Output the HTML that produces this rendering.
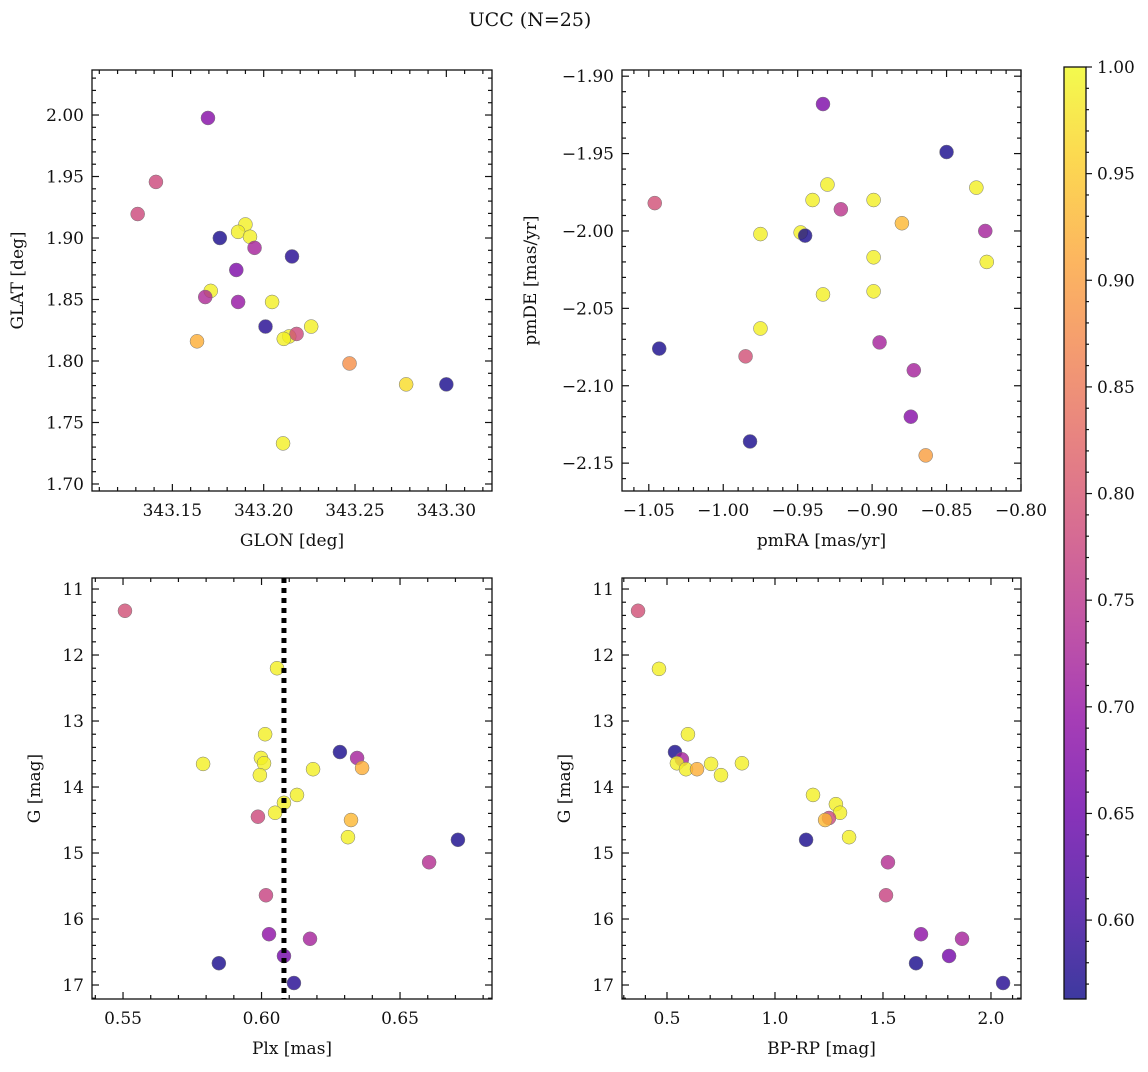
<!DOCTYPE html>
<html><head><meta charset="utf-8"><style>
body{margin:0;background:#fff;}
svg text{font-family:"DejaVu Serif","Liberation Serif",serif;fill:#111;}
</style></head><body>
<svg id="fig" width="1148" height="1067" xmlns="http://www.w3.org/2000/svg">
<defs><linearGradient id="cbg" x1="0" y1="1" x2="0" y2="0">
<stop offset="0" stop-color="#0d0887"/><stop offset="0.1" stop-color="#41049d"/><stop offset="0.2" stop-color="#6a00a8"/><stop offset="0.3" stop-color="#8f0da4"/><stop offset="0.4" stop-color="#b12a90"/><stop offset="0.5" stop-color="#cc4778"/><stop offset="0.6" stop-color="#e16462"/><stop offset="0.7" stop-color="#f2844b"/><stop offset="0.8" stop-color="#fca636"/><stop offset="0.9" stop-color="#fcce25"/><stop offset="1" stop-color="#f0f921"/>
</linearGradient></defs>
<text x="530" y="26" font-size="19" text-anchor="middle">UCC (N=25)</text>
</svg>
<script>
// Panel 1: GLON / GLAT
const p1_x=[343.1695,343.141,343.131,343.176,343.190,343.186,343.1925,343.195,343.2155,343.185,343.171,343.168,343.186,343.2046,343.201,343.226,343.214,343.218,343.211,343.1635,343.247,343.278,343.300,343.2106];
const p1_y=[1.9976,1.9456,1.9195,1.900,1.911,1.905,1.901,1.892,1.885,1.874,1.857,1.852,1.848,1.848,1.828,1.828,1.820,1.822,1.818,1.816,1.798,1.781,1.781,1.733];
const p1_c=[0.68,0.78,0.78,0.57,0.99,0.99,0.99,0.72,0.58,0.67,0.99,0.73,0.70,0.99,0.58,0.99,0.99,0.78,0.99,0.92,0.88,0.97,0.57,0.99];
// Panel 2: pmRA / pmDE
const p2_x=[-0.933,-0.850,-0.830,-0.930,-0.940,-0.899,-1.046,-0.921,-0.880,-0.824,-0.975,-0.948,-0.945,-0.823,-0.899,-0.899,-0.933,-0.975,-1.043,-0.985,-0.895,-0.872,-0.874,-0.982,-0.864];
const p2_y=[-1.918,-1.949,-1.972,-1.970,-1.980,-1.980,-1.982,-1.986,-1.995,-2.000,-2.002,-2.001,-2.003,-2.020,-2.017,-2.039,-2.041,-2.063,-2.076,-2.081,-2.072,-2.090,-2.120,-2.136,-2.145];
const p2_c=[0.67,0.57,0.99,0.99,0.99,0.99,0.79,0.75,0.93,0.72,0.99,0.99,0.57,0.99,0.99,0.99,0.99,0.99,0.57,0.79,0.72,0.72,0.68,0.57,0.90];
// Panel 3: Plx / G
const p3_x=[0.5507,0.6056,0.6013,0.5789,0.5998,0.6009,0.5994,0.6283,0.6345,0.6363,0.6186,0.6128,0.6081,0.6049,0.5987,0.6323,0.6312,0.6709,0.6605,0.6016,0.6027,0.6175,0.6081,0.5846,0.6117];
const p3_y=[11.33,12.20,13.20,13.65,13.56,13.64,13.82,13.47,13.56,13.71,13.73,14.12,14.24,14.39,14.45,14.50,14.76,14.80,15.14,15.64,16.23,16.30,16.56,16.67,16.97];
const p3_c=[0.79,0.99,0.99,0.99,0.99,0.99,0.99,0.57,0.72,0.92,0.99,0.99,0.99,0.99,0.78,0.93,0.99,0.57,0.74,0.77,0.69,0.72,0.66,0.57,0.58];
const plx_median=0.6081;
// Panel 4: BP-RP / G
const p4_x=[0.366,0.463,0.597,0.537,0.569,0.546,0.588,0.639,0.704,0.750,0.847,1.176,1.282,1.301,1.250,1.232,1.343,1.144,1.523,1.514,1.676,1.866,1.806,1.653,2.056];
const p4_y=[11.33,12.21,13.20,13.47,13.58,13.64,13.73,13.73,13.65,13.82,13.64,14.12,14.26,14.39,14.47,14.50,14.76,14.80,15.14,15.64,16.23,16.30,16.56,16.67,16.97];
const p4_c=[0.79,0.99,0.99,0.57,0.72,0.99,0.99,0.92,0.99,0.99,0.99,0.99,0.99,0.99,0.78,0.93,0.99,0.57,0.74,0.77,0.69,0.72,0.66,0.57,0.58];
const p1_ticks=["343.15","343.20","343.25","343.30"];
const p1_yticks=["1.70","1.75","1.80","1.85","1.90","1.95","2.00"];
const p2_ticks=["−1.05","−1.00","−0.95","−0.90","−0.85","−0.80"];
const p2_yticks=["−2.15","−2.10","−2.05","−2.00","−1.95","−1.90"];
const p3_ticks=["0.55","0.60","0.65"];
const G_ticks=["11","12","13","14","15","16","17"];
const p4_ticks=["0.5","1.0","1.5","2.0"];
const cb_ticks=["0.60","0.65","0.70","0.75","0.80","0.85","0.90","0.95","1.00"];
const cmin=0.563,cmax=1.0;

const NS="http://www.w3.org/2000/svg";
const svg=document.getElementById('fig');
function mk(t,a,p){const e=document.createElementNS(NS,t);for(const k in a)e.setAttribute(k,a[k]);(p||svg).appendChild(e);return e;}
const stops=[[0,[13,8,135]],[0.1,[65,4,157]],[0.2,[106,0,168]],[0.3,[143,13,164]],[0.4,[177,42,144]],[0.5,[204,71,120]],[0.6,[225,100,98]],[0.7,[242,132,75]],[0.8,[252,166,54]],[0.9,[252,206,37]],[1,[240,249,33]]];
function plasma(t){t=Math.max(0,Math.min(1,t));for(let i=1;i<stops.length;i++){if(t<=stops[i][0]){const a=stops[i-1],b=stops[i],f=(t-a[0])/(b[0]-a[0]);return 'rgb('+a[1].map((v,j)=>Math.round(v+(b[1][j]-v)*f)).join(',')+')';}}return 'rgb(240,249,33)';}

function panel(name,box,xd,yd,xs,ys,cs,xt,yt,xminor,yminor,xlab,ylab,inv,yoff){
  const [L,T,R,B]=box;
  const g=mk('g',{});
  
  
  const X=v=>L+(v-xd[0])/(xd[1]-xd[0])*(R-L);
  const Y=v=>inv? T+(v-yd[0])/(yd[1]-yd[0])*(B-T) : B-(v-yd[0])/(yd[1]-yd[0])*(B-T);
  for(let i=0;i<xs.length;i++){
    const c=mk('circle',{cx:X(xs[i]),cy:Y(ys[i]),r:7,fill:plasma((cs[i]-cmin)/(cmax-cmin)),'fill-opacity':0.8,stroke:'#777','stroke-width':0.5},g);
    
    
  }
  const lo=Math.ceil(xd[0]/xminor-1e-6),hi=Math.floor(xd[1]/xminor+1e-6);
  for(let k=lo;k<=hi;k++){const px=X(k*xminor);const maj=xt.some(s=>Math.abs(parseFloat(s.replace('−','-'))-k*xminor)<1e-6);const l=maj?7:4;
    mk('line',{x1:px,x2:px,y1:B,y2:B-l,stroke:'#111','stroke-width':1.2},g);mk('line',{x1:px,x2:px,y1:T,y2:T+l,stroke:'#111','stroke-width':1.2},g);}
  const lo2=Math.ceil(yd[0]/yminor-1e-6),hi2=Math.floor(yd[1]/yminor+1e-6);
  for(let k=lo2;k<=hi2;k++){const py=Y(k*yminor);const maj=yt.some(s=>Math.abs(parseFloat(s.replace('−','-'))-k*yminor)<1e-6);const l=maj?7:4;
    mk('line',{x1:L,x2:L+l,y1:py,y2:py,stroke:'#111','stroke-width':1.2},g);mk('line',{x1:R,x2:R-l,y1:py,y2:py,stroke:'#111','stroke-width':1.2},g);}
  xt.forEach(s=>{const t=mk('text',{x:X(parseFloat(s.replace('−','-'))),y:B+25,'font-size':17,'text-anchor':'middle'},g);t.textContent=s;
    });
  yt.forEach(s=>{const t=mk('text',{x:L-8,y:Y(parseFloat(s.replace('−','-')))+6,'font-size':17,'text-anchor':'end'},g);t.textContent=s;
    });
  mk('rect',{x:L,y:T,width:R-L,height:B-T,fill:'none',stroke:'#111','stroke-width':1.3},g);
  const xl=mk('text',{x:(L+R)/2,y:B+55,'font-size':17,'text-anchor':'middle'},g);xl.textContent=xlab;
  
  const yx=L-yoff;
  const yl=mk('text',{x:yx,y:(T+B)/2,'font-size':17,'text-anchor':'middle',transform:`rotate(-90 ${yx} ${(T+B)/2})`},g);yl.textContent=ylab;
  
  return {X,Y,g};
}
panel('panel-1-glon-glat',[92,70,492,491],[343.106,343.325],[1.6943,2.0366],p1_x,p1_y,p1_c,p1_ticks,p1_yticks,0.01,0.01,'GLON [deg]','GLAT [deg]',false,69);
panel('panel-2-pm',[622,70,1021,491],[-1.068,-0.80],[-2.168,-1.896],p2_x,p2_y,p2_c,p2_ticks,p2_yticks,0.01,0.01,'pmRA [mas/yr]','pmDE [mas/yr]',false,86);
const P3=panel('panel-3-plx-g',[92,578,492,999],[0.5388,0.6832],[10.833,17.212],p3_x,p3_y,p3_c,p3_ticks,G_ticks,0.01,0.2,'Plx [mas]','G [mag]',true,52);
const ml=mk('line',{x1:P3.X(plx_median),x2:P3.X(plx_median),y1:578,y2:999,stroke:'#000','stroke-width':5,'stroke-dasharray':'5 5'});


panel('panel-4-cmd',[622,578,1021,999],[0.2917,2.139],[10.833,17.212],p4_x,p4_y,p4_c,p4_ticks,G_ticks,0.1,0.2,'BP-RP [mag]','G [mag]',true,52);
const cb=mk('g',{});


const cT=67,cB=999,cL=1064,cR=1086;
mk('rect',{x:cL,y:cT,width:cR-cL,height:cB-cT,fill:'url(#cbg)','fill-opacity':0.8},cb);
const CY=v=>cB-(v-cmin)/(cmax-cmin)*(cB-cT);
for(let k=57;k<=100;k++){const v=k/100;if(v<cmin)continue;const maj=k%5===0;const py=CY(v);
  mk('line',{x1:cR,x2:cR+(maj?6:3),y1:py,y2:py,stroke:'#111','stroke-width':1.2},cb);}
cb_ticks.forEach(s=>{const t=mk('text',{x:cR+11,y:CY(parseFloat(s))+6,'font-size':17},cb);t.textContent=s;
  });
mk('rect',{x:cL,y:cT,width:cR-cL,height:cB-cT,fill:'none',stroke:'#111','stroke-width':1.3},cb);
</script>
</body></html>
